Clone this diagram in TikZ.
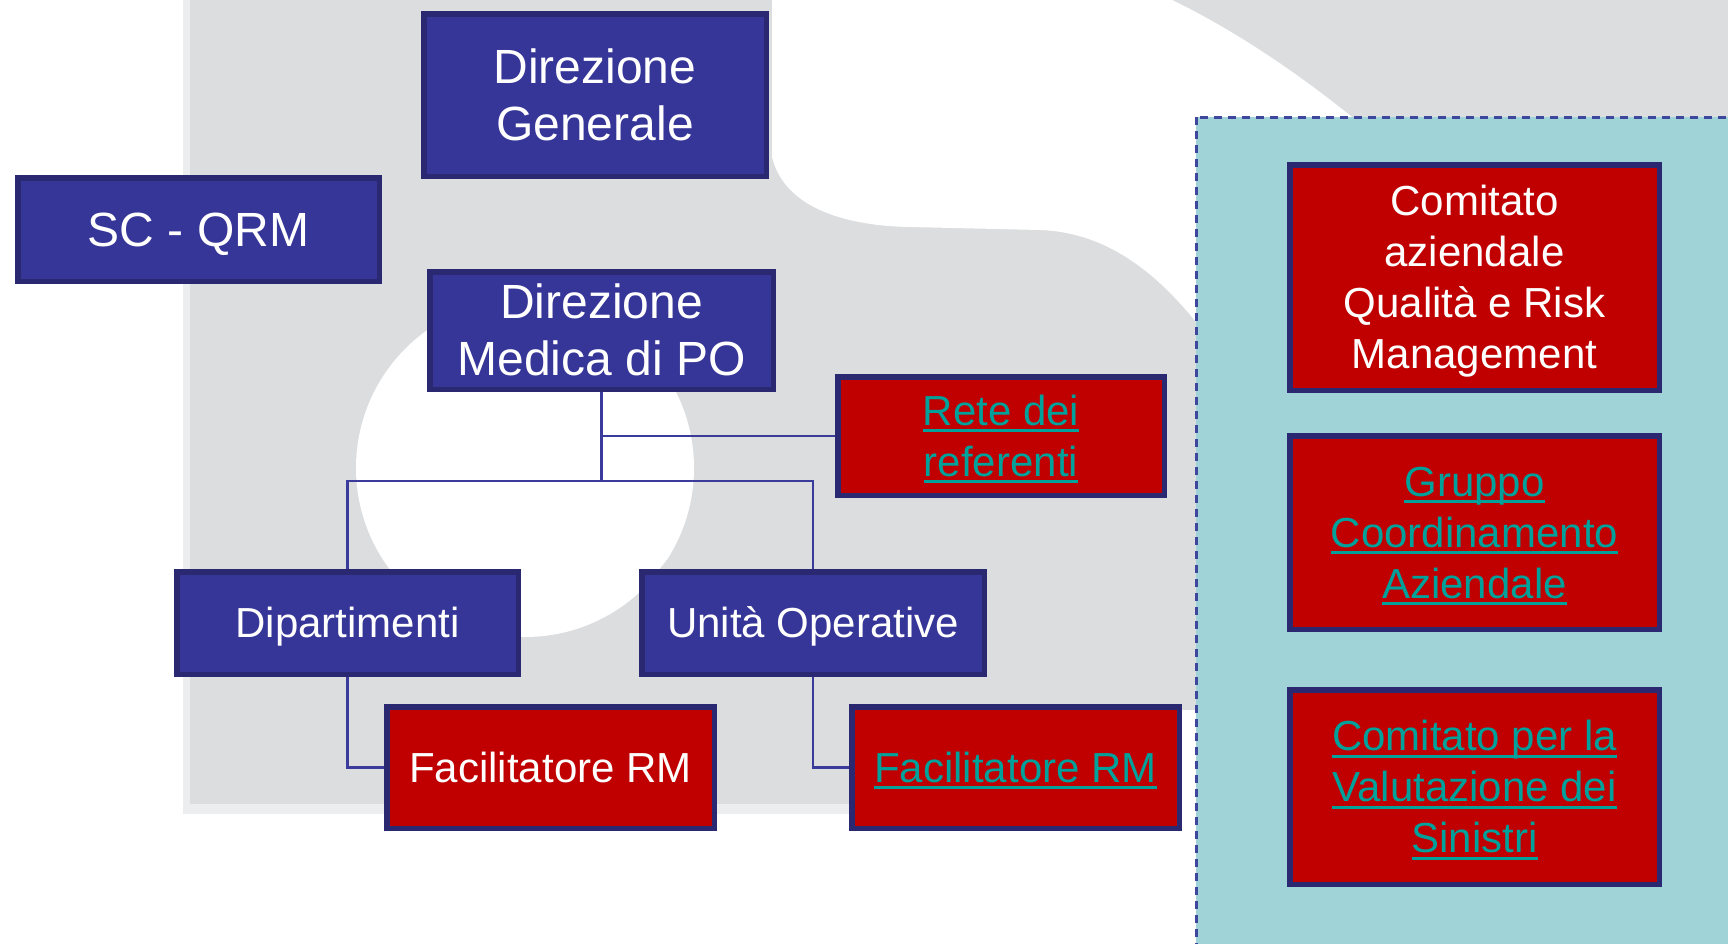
\documentclass[tikz,border=0pt]{standalone}
\usepackage{fontspec}
\setmainfont{Liberation Sans}

\definecolor{boxblue}{HTML}{363598}
\definecolor{boxnavy}{HTML}{2A2870}
\definecolor{boxred}{HTML}{C00000}
\definecolor{linkteal}{HTML}{00A09B}
\definecolor{panelteal}{HTML}{A0D3D7}
\definecolor{dashnavy}{HTML}{3F469E}
\definecolor{wirenavy}{HTML}{3B3B9C}
\definecolor{wmgray}{HTML}{DCDDDF}
\definecolor{wmhalo}{HTML}{ECEDEE}

% line box as the slide sets it: ascent and descent
\newcommand{\linestrut}{\rule[-0.212em]{0pt}{1.117em}}
\newcommand{\linkline}[1]{\setbox0\hbox{#1}\linestrut\rlap{\rule[-0.17em]{\wd0}{0.075em}}\box0}

\begin{document}
\begin{tikzpicture}[x=1pt,y=-1pt,
  box/.style={draw=boxnavy, line width=5.5pt, text=white, align=center, inner sep=0pt,
    font=\fontsize{42}{51}\selectfont},
  bluebox/.style={box, fill=boxblue},
  bigbox/.style={bluebox, font=\fontsize{48}{57}\selectfont},
  redbox/.style={box, fill=boxred},
  linkbox/.style={redbox, text=linkteal},
  wire/.style={draw=wirenavy, line width=2.5pt}]

\useasboundingbox (0,0) rectangle (1728,943);

\def\whitecircle{(525,468) circle (169)}
\def\circlecut{(300,250) -- (921,250) -- (552,700) -- (300,700) -- cycle}

% watermark
\fill[wmhalo] (183,0) rectangle (1728,814);
\fill[wmgray] (190,0) rectangle (1728,804);
\fill[white] (772,-2) -- (1168,-2) .. controls (1235,30) and (1300,75) .. (1352,117)
  -- (1352,360) -- (1196,322) .. controls (1150,265) and (1100,232) .. (1040,230)
  -- (910,227) .. controls (850,226) and (785,210) .. (772,157) -- cycle;
\scope
    \clip \circlecut;
    \fill[white] \whitecircle;
\endscope
\fill[white] (1182,710) rectangle (1196,820);

% panel
\filldraw[fill=panelteal, draw=dashnavy, line width=3pt, dash pattern=on 8pt off 6pt]
  (1196,117) rectangle (1745,960);

% boxes
\node[bigbox, minimum width=342.5, minimum height=162.5] (dg) at (595,95)
  {\linestrut Direzione\\Generale\linestrut};
\node[bigbox, minimum width=361.5, minimum height=103.5] (qrm) at (198.5,229.5)
  {\linestrut SC - QRM};
\node[bigbox, minimum width=343.5, minimum height=117.5] (dmpo) at (601.5,330.5)
  {\linestrut Direzione\\Medica di PO\linestrut};
\node[linkbox, minimum width=326.5, minimum height=118.5] (rete) at (1001,436)
  {\linkline{Rete dei}\\\linkline{referenti}};
\node[bluebox, minimum width=341.5, minimum height=102.5] (dip) at (347.5,623)
  {\linestrut Dipartimenti};
\node[bluebox, minimum width=342.5, minimum height=102.5] (uo) at (813,623)
  {\linestrut Unità Operative};
\node[redbox, minimum width=327.5, minimum height=121.5] (fac1) at (550.5,767.5)
  {\linestrut Facilitatore RM};
\node[linkbox, minimum width=327.5, minimum height=121.5] (fac2) at (1015.5,767.5)
  {\linkline{Facilitatore RM}};
\node[redbox, minimum width=369.5, minimum height=225.5] (caq) at (1474.5,277.5)
  {\linestrut Comitato\\aziendale\\Qualità e Risk\\Management\linestrut};
\node[linkbox, minimum width=369.5, minimum height=193.5] (gca) at (1474.5,532.5)
  {\linkline{Gruppo}\\\linkline{Coordinamento}\\\linkline{Aziendale}};
\node[linkbox, minimum width=369.5, minimum height=194.5] (cvs) at (1474.5,787)
  {\linkline{Comitato per la}\\\linkline{Valutazione dei}\\\linkline{Sinistri}};

% connectors
\coordinate (split) at (601.5,481);
\draw[wire] (dmpo.south) -- (split);
\draw[wire] (dmpo.south |- rete.west) -- (rete.west);
\draw[wire] (dip.north) |- (split) -| (uo.north);
\draw[wire] (dip.south) |- (fac1.west);
\draw[wire] (uo.south) |- (fac2.west);

\end{tikzpicture}
\end{document}
